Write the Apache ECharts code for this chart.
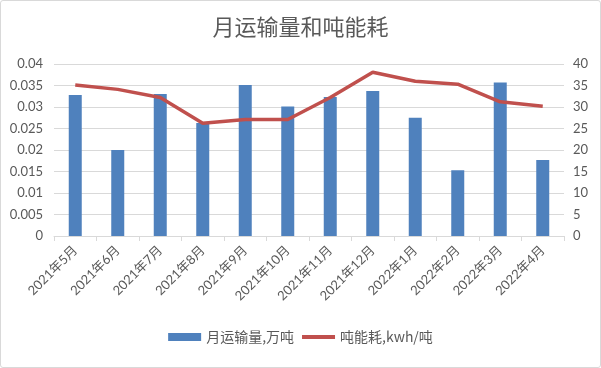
<!DOCTYPE html>
<html><head><meta charset="utf-8">
<script src="https://cdn.jsdelivr.net/npm/echarts@6/dist/echarts.min.js"></script>
<style>html,body{margin:0;padding:0;background:#fff}#c{width:599px;height:366px;border:1px solid #d9d9d9;border-radius:3px}</style>
</head><body><div id="c"></div>
<script>
const categories = ['2021年5月','2021年6月','2021年7月','2021年8月','2021年9月','2021年10月','2021年11月','2021年12月','2022年1月','2022年2月','2022年3月','2022年4月'];
const volume = [0.0328,0.0200,0.0330,0.0263,0.0351,0.0301,0.0323,0.0337,0.0275,0.0153,0.0357,0.0177];
const energy = [35.1,34.1,32.2,26.2,27.1,27.1,32.2,38.1,36.0,35.3,31.2,30.2];
const leftTicks = [0,0.005,0.01,0.015,0.02,0.025,0.03,0.035,0.04];
const rightTicks = [0,5,10,15,20,25,30,35,40];
const font = 'Lato, "Noto Sans CJK SC", sans-serif';
const cjk = '"Noto Sans CJK SC", sans-serif';
const chart = echarts.init(document.getElementById('c'));
chart.setOption({
  animation:false,
  textStyle:{fontFamily:font},
  title:{text:'月运输量和吨能耗',left:'center',top:10,textStyle:{fontSize:22,fontWeight:'normal',color:'#595959',fontFamily:cjk}},
  grid:{left:53,right:36,top:63,bottom:131},
  legend:{bottom:18,left:'center',itemGap:8,itemWidth:33,itemHeight:8,
    textStyle:{color:'#595959',fontSize:14,fontFamily:cjk},
    data:[{name:'月运输量,万吨',icon:'rect'},
          {name:'吨能耗,kwh/吨',icon:'path://M0,0 H33 V4 H0 Z',itemStyle:{color:'#c0504d'}}]},
  xAxis:{type:'category',data:categories,
    axisLine:{lineStyle:{color:'#d9d9d9'}},
    axisTick:{show:true,alignWithLabel:false,length:5,lineStyle:{color:'#d9d9d9'}},
    axisLabel:{rotate:45,color:'#595959',fontSize:13,margin:12,interval:0,fontFamily:font}},
  yAxis:[
    {type:'value',min:0,max:0.04,interval:0.005,
      axisLabel:{color:'#595959',fontSize:13,margin:11,fontFamily:font,formatter:v=>String(+v.toFixed(3))},
      splitLine:{lineStyle:{color:'#d9d9d9'}},axisLine:{show:false},axisTick:{show:false}},
    {type:'value',min:0,max:40,interval:5,
      axisLabel:{color:'#595959',fontSize:13,margin:9,fontFamily:font},
      splitLine:{show:false},axisLine:{show:false},axisTick:{show:false}}
  ],
  series:[
    {name:'月运输量,万吨',type:'bar',data:volume,barWidth:13,itemStyle:{color:'#4f81bd'}},
    {name:'吨能耗,kwh/吨',type:'line',yAxisIndex:1,data:energy,symbol:'none',
      lineStyle:{color:'#c0504d',width:3.5},itemStyle:{color:'#c0504d'}}
  ]
});
</script></body></html>
